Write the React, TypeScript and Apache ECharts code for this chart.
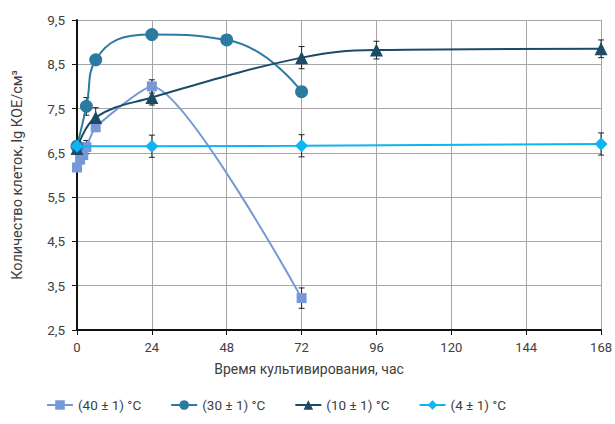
import React, { useEffect, useRef } from "react";
import * as echarts from "echarts";

const xTicks = [0, 24, 48, 72, 96, 120, 144, 168];
const yTickLabels = ["2,5", "3,5", "4,5", "5,5", "6,5", "7,5", "8,5", "9,5"];
const Y_BASE = 2.5;

const names = ["(40 ± 1) °C", "(30 ± 1) °C", "(10 ± 1) °C", "(4 ± 1) °C"];
const colors = ["#7698d8", "#2b7aa1", "#1c4b68", "#0fb4f0"];

const hours40 = [0, 1, 2, 3, 6, 24, 72];
const values40 = [6.17, 6.35, 6.45, 6.63, 7.08, 8.0, 3.22];
const err40 = [0.05, 0.1, 0.1, 0.15, 0.1, 0.15, 0.23];

const hours30 = [0, 3, 6, 24, 48, 72];
const values30 = [6.65, 7.55, 8.6, 9.17, 9.05, 7.88];
const err30 = [0.05, 0.2, 0.05, 0.05, 0.05, 0.05];

const hours10 = [0, 6, 24, 72, 96, 168];
const values10 = [6.6, 7.3, 7.75, 8.65, 8.82, 8.85];
const err10 = [0.05, 0.22, 0.17, 0.25, 0.2, 0.2];

const hours4 = [0, 24, 72, 168];
const values4 = [6.65, 6.65, 6.66, 6.7];
const err4 = [0.05, 0.25, 0.25, 0.25];

export default function App() {
  const ref = useRef<HTMLDivElement>(null);
  useEffect(() => {
    if (!ref.current) return;
    const chart = echarts.init(ref.current, null, { renderer: "svg" });
    const font = "Roboto";
    const sets = [
      { h: hours40, v: values40, e: err40, sym: "rect", size: 10, smooth: 0.2 },
      { h: hours30, v: values30, e: err30, sym: "circle", size: 13, smooth: 0.5 },
      { h: hours10, v: values10, e: err10, sym: "triangle", size: 13, smooth: 0.4 },
      { h: hours4, v: values4, e: err4, sym: "diamond", size: 13, smooth: false },
    ];
    const errData: number[][] = [];
    sets.forEach((s) => {
      s.h.forEach((h, i) => {
        if (s.e[i] > 0.06) errData.push([h, s.v[i] - Y_BASE, s.e[i]]);
      });
    });
    const series: any[] = [];
    series.push({
      type: "custom",
      name: "err",
      data: errData,
      z: 1,
      silent: true,
      renderItem: (params: any, api: any) => {
        const x = api.value(0);
        const y = api.value(1);
        const e = api.value(2);
        const top = api.coord([x, y + e]);
        const bot = api.coord([x, y - e]);
        const st = { stroke: "#222", lineWidth: 1 };
        return {
          type: "group",
          children: [
            { type: "line", shape: { x1: top[0], y1: top[1], x2: bot[0], y2: bot[1] }, style: st },
            { type: "line", shape: { x1: top[0] - 3, y1: top[1], x2: top[0] + 3, y2: top[1] }, style: st },
            { type: "line", shape: { x1: bot[0] - 3, y1: bot[1], x2: bot[0] + 3, y2: bot[1] }, style: st },
          ],
        };
      },
    });
    sets.forEach((s, k) => {
      series.push({
        type: "line",
        name: names[k],
        data: s.h.map((h, i) => [h, s.v[i] - Y_BASE]),
        smooth: s.smooth,
        symbol: s.sym,
        symbolSize: s.size,
        showAllSymbol: true,
        z: 3 + k,
        lineStyle: { color: colors[k], width: 2 },
        itemStyle: { color: colors[k] },
      });
    });
    chart.setOption({
      animation: false,
      grid: { left: 77, right: 5, top: 20, bottom: 94, containLabel: false },
      legend: {
        bottom: 7,
        left: 41,
        itemGap: 29,
        itemWidth: 26,
        itemHeight: 12,
        data: names,
        textStyle: { fontFamily: font, fontSize: 13.5, color: "#404040" },
      },
      xAxis: {
        type: "value",
        min: 0,
        max: 168,
        interval: 24,
        name: "Время культивирования, час",
        nameLocation: "middle",
        nameGap: 32,
        nameTextStyle: { fontFamily: font, fontSize: 14, color: "#404040", padding: [0, 60, 0, 0] },
        axisLine: { show: true, onZero: false, lineStyle: { color: "#111", width: 2 } },
        axisTick: { show: true, length: 5, lineStyle: { color: "#111" } },
        axisLabel: { fontFamily: font, fontSize: 13, color: "#404040", margin: 11 },
        splitLine: { show: true, lineStyle: { color: "#a6a6a6", width: 1 } },
      },
      yAxis: {
        type: "value",
        min: 0,
        max: 7,
        interval: 1,
        name: "Количество клеток, lg КОЕ/см³",
        nameLocation: "middle",
        nameGap: 52,
        nameRotate: 90,
        nameTextStyle: { fontFamily: font, fontSize: 14.5, color: "#404040" },
        axisLine: { show: true, lineStyle: { color: "#111", width: 2 } },
        axisTick: { show: true, length: 5, lineStyle: { color: "#111" } },
        axisLabel: {
          fontFamily: font,
          fontSize: 13.5,
          color: "#404040",
          margin: 12,
          formatter: (v: number) => yTickLabels[Math.round(v)] ?? "",
        },
        splitLine: { show: true, lineStyle: { color: "#a6a6a6", width: 1 } },
      },
      series,
    });
    return () => chart.dispose();
  }, []);
  return <div ref={ref} style={{ width: 615, height: 424, position: "absolute", left: 0, top: 0 }} />;
}
